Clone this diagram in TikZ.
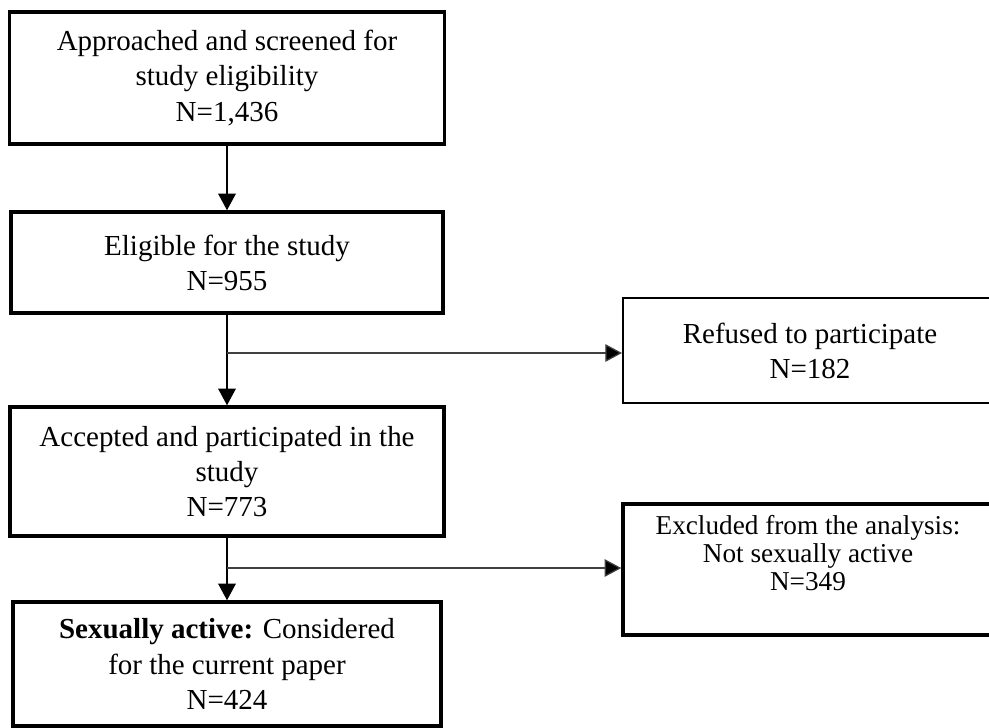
\documentclass[tikz,border=0pt]{standalone}
\usepackage{fontspec}
\setmainfont{Liberation Serif}
\usetikzlibrary{arrows.meta}

\tikzset{
  flowbox/.style={draw, line width=2pt, align=center, inner sep=0pt,
    font=\fontsize{16.5}{20}\selectfont},
  sidebox/.style={draw, line width=1.2pt, align=center, inner sep=0pt,
    font=\fontsize{16.5}{20}\selectfont},
  flowarrow/.style={line width=1pt, -{Triangle[width=10pt,length=9.5pt]}},
  branch/.style={line width=0.7pt, draw=black!75, -{Triangle[width=10pt,length=9.5pt,fill=black]}}
}

\begin{document}
\begin{tikzpicture}[x=0.02cm, y=-0.02cm]
  \useasboundingbox (0,0) rectangle (989,727);

  % main column
  \node[flowbox, minimum width=8.7cm, minimum height=2.64cm] (screened) at (227,78)
    {Approached and screened for\\ study eligibility\\ N=1,436};
  \node[flowbox, minimum width=8.64cm, minimum height=2.02cm] (eligible) at (227,262.5)
    {Eligible for the study\\ N=955};
  \node[flowbox, minimum width=8.68cm, minimum height=2.58cm] (accepted) at (227,471.5)
    {Accepted and participated in the\\ study\\ N=773};
  \node[flowbox, minimum width=8.56cm, minimum height=2.48cm] (active) at (227,664)
    {\textbf{Sexually active:} Considered\\ for the current paper\\ N=424};

  % side boxes
  \node[sidebox, minimum width=7.48cm, minimum height=2.1cm] (refused) at (810,350.5)
    {Refused to participate\\ N=182};
  \node[sidebox, line width=2pt, minimum width=7.48cm, minimum height=2.62cm] (excluded) at (810,569.5) {};
  \node[align=center, font=\fontsize{15.5}{16}\selectfont] (excltext) at (808,553)
    {Excluded from the analysis:\\ Not sexually active\\ N=349};

  % connectors
  \draw[flowarrow] (screened) -- (eligible);
  \draw[flowarrow] (eligible) -- (accepted);
  \draw[flowarrow] (accepted) -- (active);

  \coordinate (split1) at (227,353);
  \coordinate (split2) at (227,568);
  \draw[branch] (split1) -- (split1 -| refused.west);
  \draw[branch] (split2) -- (split2 -| excluded.west);
\end{tikzpicture}
\end{document}
